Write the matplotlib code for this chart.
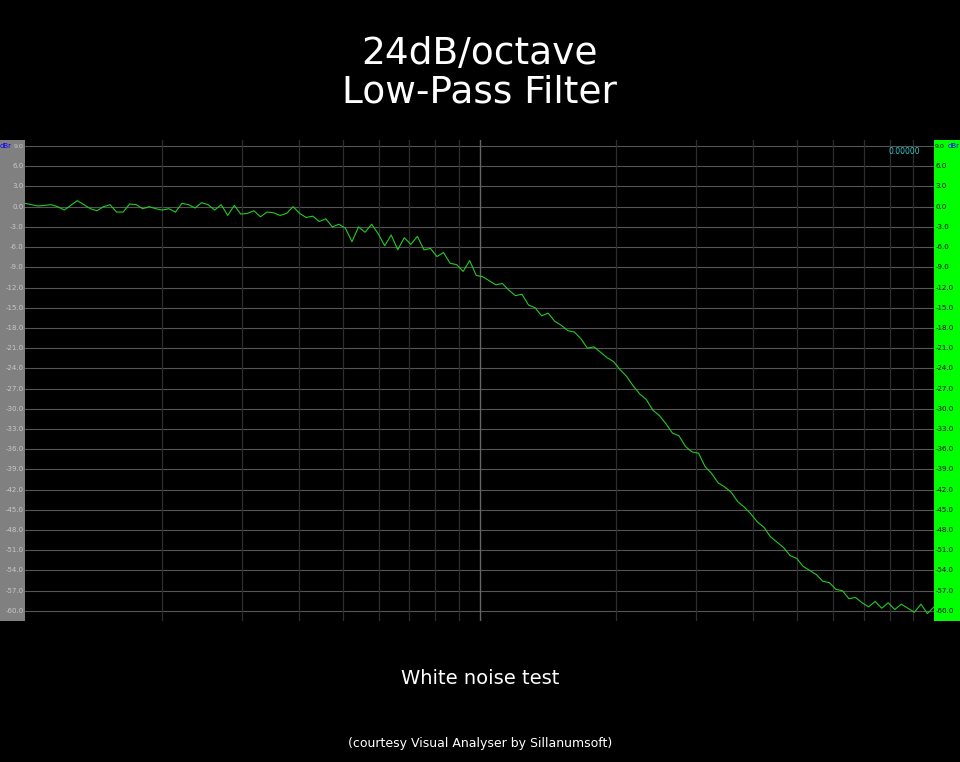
import numpy as np
import matplotlib
matplotlib.use("Agg")
import matplotlib.pyplot as plt

# measured response, 140 log-spaced points between 100 Hz and 10 kHz
freqs = np.geomspace(100, 10000, 140)
levels = [
    0.5, 0.3, 0.1, 0.2, 0.3, 0.0, -0.5, 0.2, 0.9, 0.3, -0.3, -0.6, 0.0, 0.3, -0.8,
    -0.8, 0.4, 0.3, -0.3, 0.0, -0.3, -0.5, -0.3, -0.8, 0.5, 0.3, -0.2, 0.6, 0.3, -0.5,
    0.3, -1.3, 0.2, -1.1, -1.0, -0.6, -1.5, -0.8, -0.9, -1.3, -1.0, 0.0, -1.0,
    -1.6, -1.4, -2.2, -1.8, -3.0, -2.6,
    -3.2, -5.2, -3.0, -3.8, -2.6, -4.0,
    -5.8, -4.2, -6.4, -4.6,
    -5.6, -4.4, -6.4, -6.2,
    -7.4, -6.8, -8.4, -8.6,
    -9.6, -8.0, -10.2, -10.4,
    -11.0, -11.6, -11.4, -12.4,
    -13.2, -13.0, -14.6, -15.0,
    -16.2, -15.8, -17.0, -17.6,
    -18.4, -18.6, -19.6, -21.0,
    -20.8, -21.6, -22.4, -23.0,
    -24.2, -25.2, -26.6, -27.8,
    -28.6, -30.2, -31.0, -32.2,
    -33.6, -34.0, -35.6, -36.4,
    -36.6, -38.6, -39.6, -41.0,
    -41.6, -42.4, -43.8, -44.6,
    -45.6, -46.8, -47.6, -49.0,
    -49.8, -50.6, -51.8, -52.2,
    -53.4, -54.0, -54.6, -55.6,
    -55.8, -56.8, -57.0, -58.2,
    -58.0, -58.8, -59.4, -58.6,
    -59.6, -58.8, -59.8, -59.0,
    -59.6, -60.2, -59.0, -60.4, -59.4,
]
db_ticks = np.arange(9, -61, -3)
minor_freqs = [200, 300, 400, 500, 600, 700, 800, 900,
               2000, 3000, 4000, 5000, 6000, 7000, 8000, 9000]

fig = plt.figure(figsize=(9.6, 7.62), dpi=100, facecolor="black")
ax = fig.add_axes([25/960, 141/762, 909/960, 481/762])
ax.set_facecolor("black")
ax.set_xscale("log")
ax.set_xlim(100, 10000)
ax.set_ylim(-61.5, 9.9)

for d in db_ticks:
    ax.axhline(d, color="#555555", lw=0.8, zorder=1)
for f in minor_freqs:
    ax.axvline(f, color="#2e2e2e", lw=0.9, zorder=1)
ax.axvline(1000, color="#666666", lw=1.0, zorder=1)

ax.plot(freqs, levels, color="#22cc22", lw=0.8, zorder=3)
ax.set_xticks([]); ax.set_yticks([])
ax.minorticks_off()
for s in ax.spines.values():
    s.set_visible(False)

# side scales
left = fig.add_axes([0, 141/762, 25/960, 481/762], facecolor="#808080")
right = fig.add_axes([934/960, 141/762, 26/960, 481/762], facecolor="#00ff00")
for a, col, x in [(left, "#c8c8c8", 0.95), (right, "black", 0.05)]:
    a.set_ylim(-61.5, 9.9); a.set_xlim(0, 1)
    a.set_xticks([]); a.set_yticks([])
    for s in a.spines.values():
        s.set_visible(False)
    for d in db_ticks[1:]:
        a.text(x, d, f"{d:.1f}", color=col, fontsize=5,
               ha="right" if x > 0.5 else "left", va="center")
left.text(0.0, 9, "dBr", color="blue", fontsize=5, ha="left", va="center")
left.text(0.95, 9, "9.0", color="#c8c8c8", fontsize=4.5, ha="right", va="center")
right.text(0.02, 9, "9.0", color="black", fontsize=4.5, ha="left", va="center")
right.text(1.0, 9, "dBr", color="blue", fontsize=5, ha="right", va="center")
ax.text(0.985, 0.985, "0.00000", color="#33cccc", fontsize=5.5,
        transform=ax.transAxes, ha="right", va="top")

fig.text(0.5, 1 - 73/762, "24dB/octave\nLow-Pass Filter", color="white",
         fontsize=27, ha="center", va="center", linespacing=1.1)
fig.text(0.5, 1 - 679/762, "White noise test", color="white",
         fontsize=14, ha="center", va="center")
fig.text(0.5, 1 - 743/762, "(courtesy Visual Analyser by Sillanumsoft)", color="white",
         fontsize=9, ha="center", va="center")

fig.savefig("out.png", dpi=100, facecolor="black")
